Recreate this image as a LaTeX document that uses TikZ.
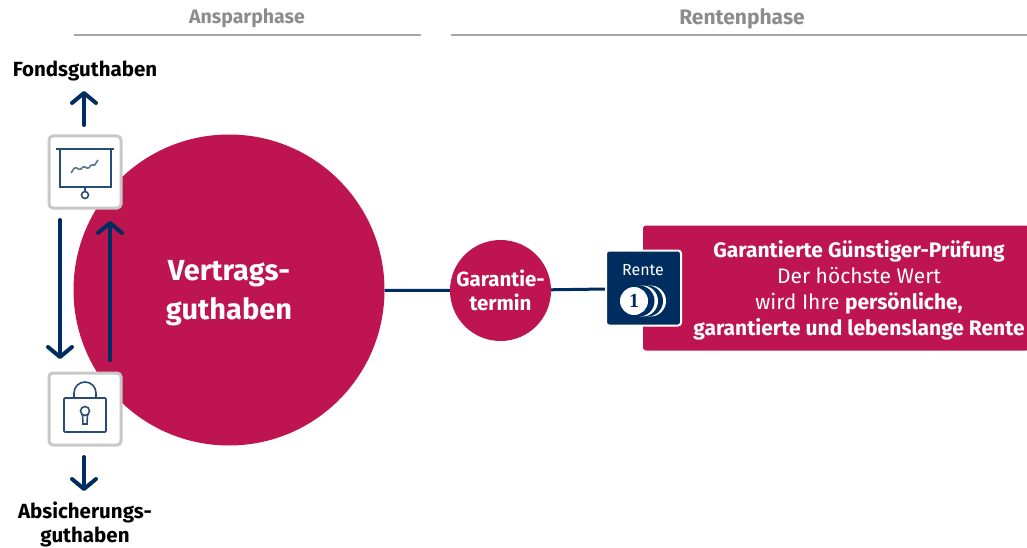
\documentclass[tikz,border=0pt]{standalone}
\usepackage{fontspec}
\setmainfont{Fira Sans}
\newfontfamily\coinfont{Liberation Serif}
\usepackage{xcolor}
\usetikzlibrary{arrows.meta}
\definecolor{berry}{HTML}{BE1550}
\definecolor{navy}{HTML}{002D5F}
\definecolor{rule}{HTML}{A6A6A6}
\definecolor{framegray}{HTML}{C8C8C8}
\definecolor{headgray}{HTML}{8C8C8C}

\begin{document}
\begin{tikzpicture}[x=1pt,y=-1pt,
  phase/.style={font=\fontsize{19.5}{21}\selectfont\bfseries,text=headgray},
  rulefree/.style={rule,line width=2pt},
  link/.style={navy,line width=3pt},
  flow/.style={navy,line width=4pt,line cap=round,-{Straight Barb[length=10pt,width=24pt,round]}},
  iconbox/.style={draw=framegray,fill=white,line width=3pt,rounded corners=4pt,minimum size=72pt,inner sep=0pt},
  icon/.style={navy!85!white,line width=1.6pt},
  outlabel/.style={font=\fontsize{20.5}{24.5}\selectfont\bfseries,align=center,text=black},
  inlabel/.style={font=\fontsize{20.5}{24}\selectfont\bfseries,align=center,text=white}]
  \useasboundingbox (0,0) rectangle (1027,548);

  % headers
  \node[phase] (anspar) at (247,18) {Ansparphase};
  \node[phase,font=\fontsize{21}{23}\selectfont\bfseries] (renten) at (742,19) {Rentenphase};
  \coordinate (ansparL) at (74,35);
  \coordinate (ansparR) at (421,35);
  \coordinate (rentenL) at (451,35);
  \coordinate (rentenR) at (1027,35);
  \draw[rulefree] (ansparL) -- (ansparR);
  \draw[rulefree] (rentenL) -- (rentenR);

  % circles and result box
  \node[circle,fill=berry,minimum size=311pt,inner sep=0pt] (vertrag) at (229,290) {};
  \node[font=\fontsize{29}{39}\selectfont\bfseries,align=center,text=white] (vertragtext) at (229,293) {Vertrags-\\guthaben};
  \node[circle,fill=berry,minimum size=101pt,inner sep=0pt,inlabel] (termin) at (500.5,290.5) {Garantie-\\termin};
  \node[fill=berry,rounded corners=3pt,minimum width=386pt,minimum height=125pt,inner sep=0pt] (result) at (836,288) {};
  \node[font=\fontsize{21}{26}\selectfont,align=center,text=white] (resulttext) at (859,290.5)
    {\textbf{Garantierte Günstiger-Prüfung}\\Der höchste Wert\\wird Ihre \textbf{persönliche,}\\\textbf{garantierte und lebenslange Rente}};

  % connectors
  \draw[link] (vertrag) -- (termin);
  \draw[link] (termin) -- (606,289);

  % Rente badge
  \node[draw=white,fill=navy,line width=2pt,rounded corners=3pt,minimum size=75pt,inner sep=0pt] (rente) at (643.5,288) {};
  \node[font=\fontsize{16}{18}\selectfont,text=white] (rentetext) at (643,270) {Rente};
  \fill[white] (650.5,301) circle (15.5);
  \fill[navy] (647.5,301) circle (15.5);
  \fill[white] (642.5,301) circle (15.5);
  \fill[navy] (639,301) circle (15.5);
  \node[circle,fill=white,minimum size=28pt,inner sep=0pt,text=navy,font=\coinfont\fontsize{20}{20}\selectfont\bfseries] (one) at (634,301) {1};

  % icon boxes
  \node[iconbox] (chart) at (85,172) {};
  \node[iconbox] (lock) at (85,409) {};

  \draw[icon] (56,149) -- (114,149);
  \draw[icon] (60,149) -- (60,187) -- (111,187) -- (111,149);
  \draw[icon] (85,187) -- (85,191);
  \draw[icon] (85,195) circle (3.5);
  \draw[icon,navy!65!white,rounded corners=1.5pt] (71,173) -- (75,167) -- (80,170) -- (84,166) -- (88,169) -- (92,164) -- (94,166) -- (98,160);

  \draw[icon,rounded corners=1pt] (64,398) rectangle (106,432);
  \draw[icon] (74,398) -- (74,393) arc (180:360:11) -- (96,398);
  \draw[icon] (85,411) circle (4.5);
  \draw[icon] (82.5,415) -- (83,424) -- (87,424) -- (87.5,415);

  % arrows
  \draw[flow] (84,125) -- (84,91);
  \draw[flow] (60,220) -- (60,359);
  \draw[flow] (110,360) -- (110,221);
  \draw[flow] (84,457) -- (84,491);

  \node[outlabel] (fonds) at (85,71) {Fondsguthaben};
  \node[outlabel] (absich) at (85,524.5) {Absicherungs-\\guthaben};
\end{tikzpicture}
\end{document}
